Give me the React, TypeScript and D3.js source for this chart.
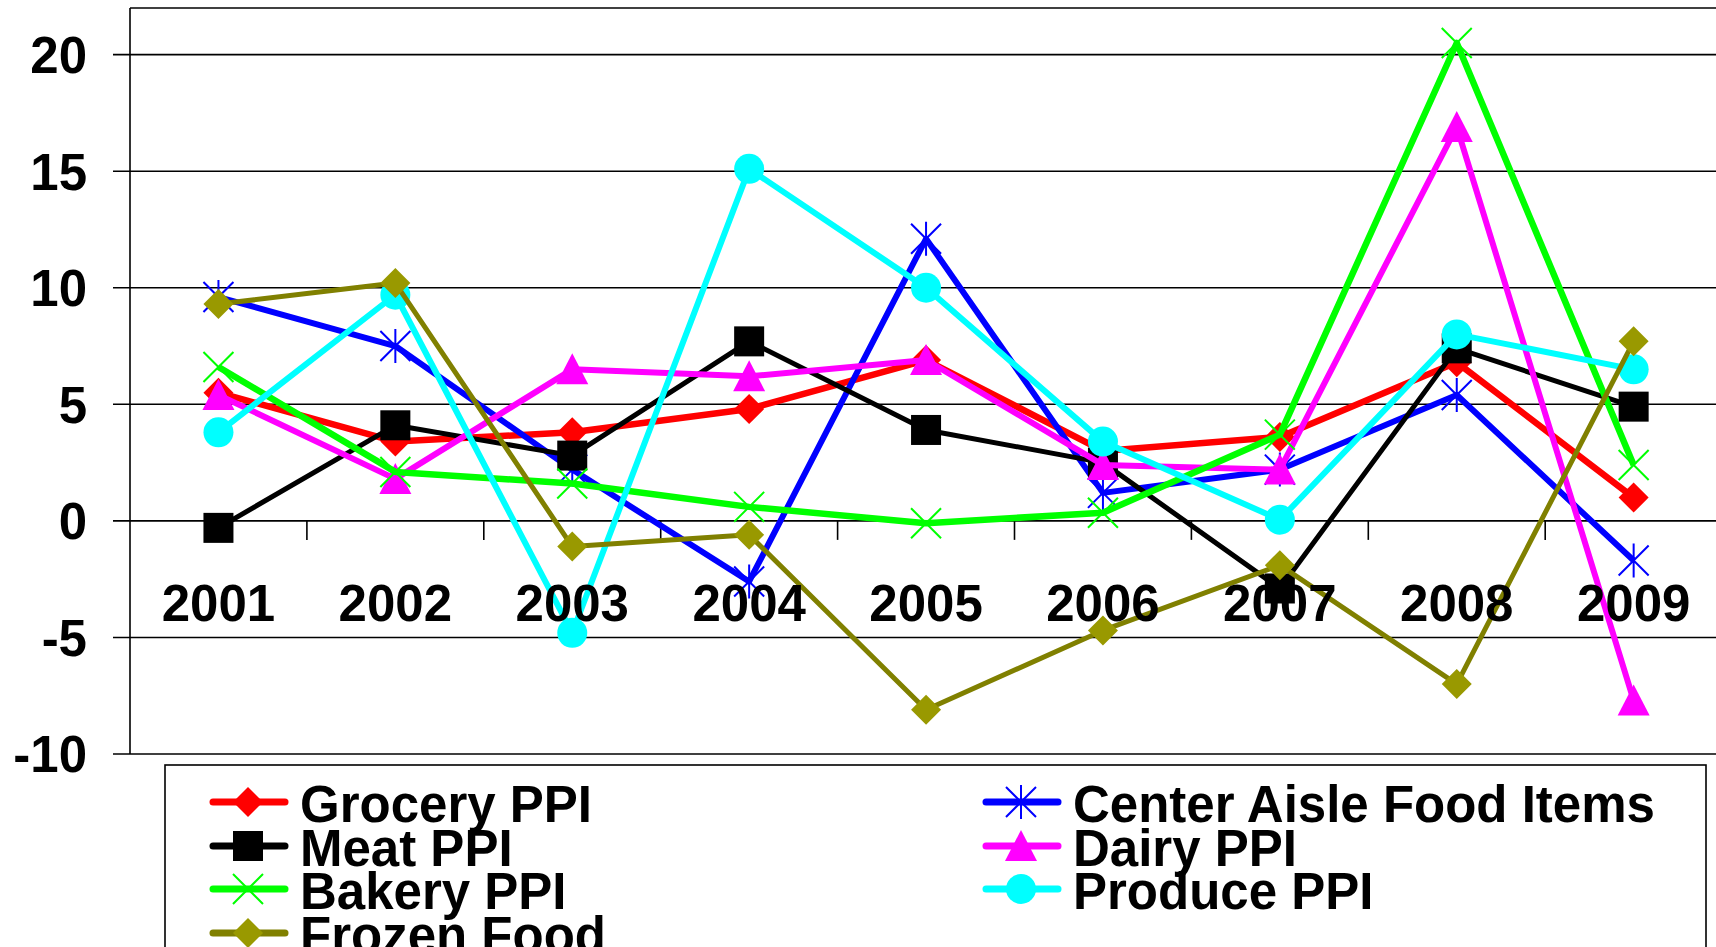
import React, { useRef, useEffect } from 'react';
import { select, scaleBand, scaleLinear, line } from 'd3';

const years = ['2001', '2002', '2003', '2004', '2005', '2006', '2007', '2008', '2009'];
const yTicks = [-10, -5, 0, 5, 10, 15, 20];

const groceryPPI = [5.5, 3.4, 3.8, 4.8, 6.9, 3.0, 3.6, 6.8, 1.0];
const centerAisle = [9.6, 7.5, 2.2, -2.6, 12.1, 1.2, 2.2, 5.4, -1.7];
const meatPPI = [-0.3, 4.1, 2.8, 7.7, 3.9, 2.5, -2.9, 7.4, 4.9];
const dairyPPI = [5.4, 1.8, 6.5, 6.2, 6.9, 2.4, 2.2, 16.9, -7.7];
const bakeryPPI = [6.6, 2.1, 1.6, 0.6, -0.1, 0.35, 3.7, 20.5, 2.4];
const producePPI = [3.8, 9.7, -4.8, 15.1, 10.0, 3.4, 0.05, 8.0, 6.5];
const frozenFood = [9.3, 10.2, -1.1, -0.6, -8.1, -4.7, -1.9, -7.0, 7.7];

// drawing order = legend order read row by row
const series = [
  { name: 'Grocery PPI', values: groceryPPI, color: '#ff0000', fill: '#ff0000', marker: 'diamond', width: 6.5 },
  { name: 'Center Aisle Food Items', values: centerAisle, color: '#0000ff', fill: '#0000ff', marker: 'star', width: 6 },
  { name: 'Meat PPI', values: meatPPI, color: '#000000', fill: '#000000', marker: 'square', width: 5 },
  { name: 'Dairy PPI', values: dairyPPI, color: '#ff00ff', fill: '#ff00ff', marker: 'triangle', width: 6 },
  { name: 'Bakery PPI', values: bakeryPPI, color: '#00ff00', fill: '#00ff00', marker: 'x', width: 6.5 },
  { name: 'Produce PPI', values: producePPI, color: '#00ffff', fill: '#00ffff', marker: 'circle', width: 6 },
  { name: 'Frozen Food', values: frozenFood, color: '#808000', fill: '#999900', marker: 'diamond', width: 5 },
];

const FONT = '"Liberation Sans", Arial, sans-serif';

const drawMarker = (g, type, fill) => {
  const s = 15;
  if (type === 'diamond') {
    g.append('path').attr('d', `M0,${-s}L${s},0L0,${s}L${-s},0Z`).attr('fill', fill);
  } else if (type === 'square') {
    g.append('rect').attr('x', -s).attr('y', -s).attr('width', 2 * s).attr('height', 2 * s).attr('fill', fill);
  } else if (type === 'triangle') {
    g.append('path').attr('d', `M0,${-s - 1}L${s + 1},${s}L${-s - 1},${s}Z`).attr('fill', fill);
  } else if (type === 'circle') {
    g.append('circle').attr('r', s).attr('fill', fill);
  } else if (type === 'star' || type === 'x') {
    let d = `M${-s},${-s}L${s},${s}M${s},${-s}L${-s},${s}`;
    if (type === 'star') d += `M0,${-s - 2}L0,${s + 2}`;
    g.append('path').attr('d', d).attr('stroke', fill).attr('stroke-width', 2).attr('fill', 'none');
  }
};

const App = () => {
  const svgRef = useRef(null);

  useEffect(() => {
    document.body.style.margin = '0';
    const svg = select(svgRef.current);
    svg.selectAll('*').remove();

    const left = 130;
    const xScale = scaleBand().domain(years).range([left, left + 9 * 176.9]);
    const yScale = scaleLinear().domain([-10, 22]).range([754, 8]);
    const cx = (i) => xScale(years[i]) + xScale.bandwidth() / 2;

    // gridlines + y ticks
    svg.append('g')
      .selectAll('line')
      .data(yTicks)
      .join('line')
      .attr('x1', left - 17)
      .attr('x2', 1716)
      .attr('y1', (d) => yScale(d))
      .attr('y2', (d) => yScale(d))
      .attr('stroke', '#000')
      .attr('stroke-width', 1.6);

    // plot top border
    svg.append('line')
      .attr('x1', left).attr('x2', 1716)
      .attr('y1', yScale(22)).attr('y2', yScale(22))
      .attr('stroke', '#000').attr('stroke-width', 1.6);

    // y axis line
    svg.append('line')
      .attr('x1', left).attr('x2', left)
      .attr('y1', yScale(22)).attr('y2', yScale(-10))
      .attr('stroke', '#000').attr('stroke-width', 1.6);

    svg.append('g')
      .selectAll('text')
      .data(yTicks)
      .join('text')
      .attr('x', 87)
      .attr('y', (d) => yScale(d))
      .attr('dy', '0.36em')
      .attr('text-anchor', 'end')
      .attr('font-family', FONT)
      .attr('font-weight', 'bold')
      .attr('font-size', 51)
      .text((d) => d);

    // x axis ticks at category boundaries
    svg.append('g')
      .selectAll('line')
      .data(years.slice(1))
      .join('line')
      .attr('x1', (d) => xScale(d))
      .attr('x2', (d) => xScale(d))
      .attr('y1', yScale(0))
      .attr('y2', yScale(0) + 19)
      .attr('stroke', '#000')
      .attr('stroke-width', 1.6);

    // series
    series.forEach((s) => {
      const path = line()
        .x((v, i) => cx(i))
        .y((v) => yScale(v));
      svg.append('path')
        .datum(s.values)
        .attr('d', path)
        .attr('fill', 'none')
        .attr('stroke', s.color)
        .attr('stroke-width', s.width)
        .attr('stroke-linejoin', 'round');
      s.values.forEach((v, i) => {
        const g = svg.append('g').attr('transform', `translate(${cx(i)},${yScale(v)})`);
        drawMarker(g, s.marker, s.fill);
      });
    });

    // x labels
    svg.append('g')
      .selectAll('text')
      .data(years)
      .join('text')
      .attr('x', (d) => xScale(d) + xScale.bandwidth() / 2)
      .attr('y', 621)
      .attr('text-anchor', 'middle')
      .attr('font-family', FONT)
      .attr('font-weight', 'bold')
      .attr('font-size', 51)
      .text((d) => d);

    // legend
    svg.append('rect')
      .attr('x', 165).attr('y', 765)
      .attr('width', 1541).attr('height', 250)
      .attr('fill', '#fff').attr('stroke', '#000').attr('stroke-width', 1.6);

    const rowY = [802, 846, 889, 933];
    series.forEach((s, k) => {
      const col = k % 2;
      const row = Math.floor(k / 2);
      const mx = col === 0 ? 248 : 1021;
      const y = rowY[row];
      const g = svg.append('g');
      g.append('line')
        .attr('x1', mx - 35).attr('x2', mx + 37)
        .attr('y1', y).attr('y2', y)
        .attr('stroke', s.color).attr('stroke-width', 7).attr('stroke-linecap', 'round');
      drawMarker(g.append('g').attr('transform', `translate(${mx},${y})`), s.marker, s.fill);
      g.append('text')
        .attr('x', mx + 52)
        .attr('y', y + 20)
        .attr('font-family', FONT)
        .attr('font-weight', 'bold')
        .attr('font-size', 51)
        .text(s.name);
    });
  }, []);

  return (
    <div style={{ position: 'absolute', left: 0, top: 0, width: 1716, height: 947, overflow: 'hidden', background: '#fff' }}>
      <svg ref={svgRef} width={1716} height={947} />
    </div>
  );
};

export { App as default };
